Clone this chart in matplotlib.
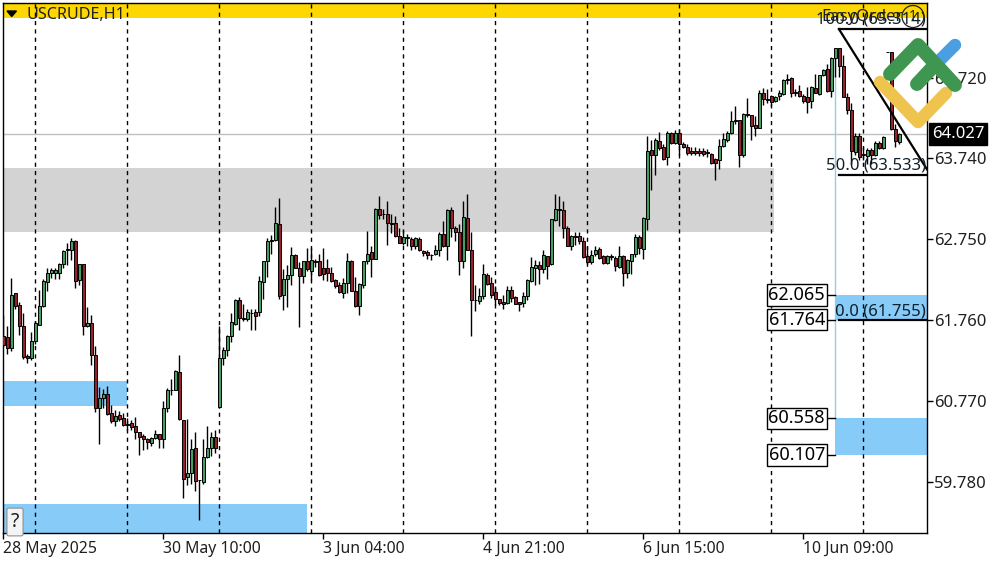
import matplotlib
matplotlib.use('Agg')
import matplotlib.pyplot as plt
from matplotlib.patches import Rectangle
from matplotlib.transforms import Affine2D, blended_transform_factory

opens = [61.56,61.55,61.42,62.09,61.94,61.69,61.32,61.30,61.50,61.70,
    61.93,62.23,62.34,62.33,62.33,62.44,62.61,62.62,62.72,62.25,
    62.45,61.69,61.72,61.33,60.69,60.81,60.86,60.62,60.52,60.60,
    60.56,60.49,60.50,60.46,60.39,60.34,60.30,60.26,60.32,60.37,
    60.30,60.69,60.90,60.91,61.13,60.54,59.84,59.89,60.19,59.81,
    59.78,60.08,60.20,60.33,60.70,61.29,61.39,61.56,61.71,62.01,
    61.78,61.77,61.85,61.86,61.86,62.23,62.48,62.72,62.74,62.93,
    62.07,62.26,62.31,62.55,62.40,62.30,62.48,62.36,62.48,62.48,
    62.40,62.40,62.33,62.25,62.19,62.09,62.21,62.48,62.12,61.93,
    62.19,62.48,62.59,62.51,63.12,63.06,63.06,62.94,62.94,62.79,
    62.70,62.76,62.75,62.66,62.75,62.60,62.59,62.56,62.57,62.61,
    62.81,62.67,63.10,62.88,62.84,62.48,63.01,62.62,62.01,61.99,
    62.05,62.31,62.21,62.10,62.02,61.98,61.97,62.13,62.04,61.98,
    61.97,62.05,62.24,62.40,62.43,62.38,62.54,62.44,62.98,63.12,
    63.11,62.89,62.67,62.79,62.79,62.72,62.54,62.47,62.57,62.63,
    62.54,62.46,62.54,62.52,62.41,62.54,62.34,62.48,62.57,62.78,
    62.63,63.00,63.84,63.78,63.95,63.88,63.75,64.04,63.92,64.04,
    63.91,63.87,63.83,63.83,63.82,63.82,63.81,63.79,63.73,63.72,
    63.89,63.96,64.04,64.19,64.20,63.78,64.28,64.26,64.14,64.11,
    64.53,64.46,64.50,64.44,64.50,64.52,64.69,64.72,64.55,64.56,
    64.50,64.49,64.44,64.60,64.52,64.75,64.83,64.56,64.96,65.08,
    64.86,64.48,64.33,63.81,64.01,63.79,63.77,63.84,63.78,63.92,
    63.86,65.03,65.03,64.09,63.94]

highs = [61.82,61.69,62.27,62.09,61.98,61.84,61.34,61.61,61.75,62.13,
    62.26,62.40,62.40,62.39,62.46,62.61,62.70,62.76,62.74,62.45,
    62.45,61.92,61.82,61.44,60.94,60.92,60.95,60.72,60.66,60.65,
    60.62,60.56,60.54,60.58,60.39,60.37,60.32,60.33,60.42,60.37,
    60.77,60.93,61.04,61.15,61.33,60.54,60.55,60.31,60.39,59.81,
    60.31,60.46,60.39,60.41,61.69,61.43,61.58,61.85,62.02,62.04,
    61.96,61.89,61.90,61.90,62.30,62.48,62.76,62.80,63.14,63.25,
    62.38,62.43,62.65,62.57,62.47,62.48,62.64,62.64,62.51,62.57,
    62.64,62.50,62.41,62.26,62.22,62.27,62.58,62.49,62.28,62.21,
    62.48,62.85,62.66,63.13,63.27,63.12,63.21,63.06,63.03,62.89,
    62.86,62.81,62.77,62.78,62.77,62.62,62.62,62.57,62.68,62.83,
    62.97,63.12,63.14,62.91,62.93,63.21,63.30,62.84,62.19,62.15,
    62.45,62.33,62.29,62.17,62.02,62.07,62.17,62.17,62.05,61.98,
    62.10,62.26,62.53,62.49,62.48,62.61,62.54,63.00,63.30,63.28,
    63.21,62.91,62.80,62.83,62.83,62.78,62.66,62.61,62.66,62.65,
    62.55,62.55,62.57,62.54,62.66,62.55,62.50,62.57,62.81,62.80,
    63.02,64.01,63.96,63.98,64.06,63.91,64.07,64.06,64.08,64.10,
    63.93,63.91,63.88,63.87,63.86,63.86,63.85,63.80,63.74,63.97,
    64.04,64.07,64.31,64.37,64.20,64.29,64.47,64.26,64.25,64.57,
    64.59,64.58,64.51,64.50,64.57,64.71,64.77,64.73,64.58,64.63,
    64.52,64.61,64.62,64.77,64.76,64.83,64.89,64.97,65.09,65.08,
    65.00,64.53,64.41,64.05,64.04,63.88,63.86,63.86,63.95,63.95,
    64.01,65.03,65.03,64.15,64.04]

lows = [61.43,61.35,61.38,61.90,61.58,61.28,61.23,61.27,61.47,61.70,
    61.92,62.11,62.27,62.26,62.26,62.39,62.43,62.49,62.15,62.19,
    61.58,61.68,61.21,60.64,60.24,60.68,60.60,60.50,60.46,60.52,
    60.47,60.41,60.41,60.31,60.11,60.17,60.18,60.22,60.31,60.19,
    60.19,60.64,60.84,60.90,60.54,59.59,59.74,59.76,59.67,59.31,
    59.76,60.07,60.10,60.14,60.69,61.21,61.32,61.49,61.70,61.64,
    61.75,61.75,61.64,61.64,61.81,62.02,62.28,62.57,62.72,62.02,
    61.88,61.92,62.19,62.39,61.67,62.21,62.36,62.25,62.41,62.30,
    62.25,62.24,62.23,62.15,62.09,62.03,62.09,62.11,61.92,61.82,
    62.15,62.44,62.28,62.50,62.99,62.99,62.68,62.82,62.78,62.70,
    62.68,62.66,62.62,62.63,62.60,62.54,62.51,62.49,62.55,62.54,
    62.65,62.49,62.78,62.73,62.31,62.40,62.61,61.56,61.87,61.96,
    62.02,62.19,62.03,61.94,61.94,61.89,61.96,61.98,61.95,61.87,
    61.92,62.00,62.23,62.19,62.20,62.33,62.26,62.43,62.97,62.91,
    62.76,62.66,62.61,62.68,62.69,62.52,62.45,62.44,62.54,62.51,
    62.44,62.44,62.49,62.36,62.40,62.18,62.27,62.32,62.53,62.57,
    62.51,62.86,63.35,63.53,63.84,63.72,63.66,63.91,63.91,63.78,
    63.86,63.78,63.78,63.78,63.76,63.76,63.75,63.67,63.47,63.61,
    63.88,63.94,64.03,64.16,63.63,63.75,64.24,63.96,64.01,64.11,
    64.39,64.41,64.37,64.43,64.45,64.51,64.65,64.48,64.50,64.49,
    64.41,64.29,64.35,64.53,64.51,64.74,64.55,64.48,64.73,64.73,
    64.48,64.28,63.67,63.78,63.72,63.71,63.67,63.67,63.76,63.85,
    63.85,65.03,64.08,63.88,63.91]

closes = [61.45,61.42,62.07,61.93,61.69,61.31,61.30,61.50,61.72,61.93,
    62.24,62.34,62.37,62.37,62.44,62.60,62.63,62.72,62.24,62.45,
    61.69,61.72,61.33,60.68,60.81,60.86,60.61,60.52,60.59,60.55,
    60.48,60.48,60.45,60.39,60.33,60.30,60.27,60.32,60.37,60.30,
    60.69,60.90,60.91,61.14,60.55,59.82,59.89,60.18,59.79,59.80,
    60.08,60.20,60.33,60.19,61.29,61.39,61.57,61.73,62.00,61.78,
    61.77,61.86,61.84,61.81,62.24,62.48,62.72,62.74,62.95,62.05,
    62.26,62.31,62.55,62.39,62.30,62.48,62.38,62.49,62.47,62.31,
    62.32,62.33,62.24,62.17,62.10,62.21,62.48,62.12,61.93,62.20,
    62.48,62.57,62.51,63.12,63.04,63.05,62.94,62.93,62.79,62.70,
    62.77,62.77,62.66,62.76,62.61,62.58,62.55,62.55,62.61,62.81,
    62.67,63.10,62.88,62.84,62.48,63.02,62.61,62.01,62.00,62.05,
    62.32,62.20,62.06,62.02,61.97,61.96,62.13,62.03,61.96,61.96,
    62.05,62.25,62.41,62.43,62.38,62.55,62.42,62.99,63.12,63.10,
    62.89,62.67,62.79,62.78,62.72,62.53,62.47,62.56,62.62,62.52,
    62.46,62.54,62.53,62.42,62.54,62.34,62.49,62.57,62.77,62.64,
    63.01,63.83,63.78,63.96,63.86,63.73,64.05,63.92,64.04,63.91,
    63.87,63.80,63.80,63.80,63.80,63.79,63.80,63.68,63.68,63.89,
    63.97,64.04,64.19,64.21,63.78,64.28,64.26,64.13,64.11,64.53,
    64.46,64.45,64.42,64.49,64.53,64.69,64.70,64.54,64.54,64.50,
    64.44,64.43,64.61,64.54,64.75,64.82,64.56,64.96,65.08,64.87,
    64.48,64.33,63.82,64.01,63.75,63.78,63.84,63.78,63.92,63.86,
    64.00,65.03,64.09,63.95,64.03]

# bar numbers of the date ticks and of the dashed period separators
tick_bars = [0, 40, 80, 120, 160, 200]
tick_labels = ['28 May 2025', '30 May 10:00', '3 Jun 04:00', '4 Jun 21:00', '6 Jun 15:00', '10 Jun 09:00']
separator_bars = [8, 31, 54, 77, 100, 123, 146, 169, 192, 215]
price_ticks = [59.78, 60.77, 61.76, 62.75, 63.74, 64.72]

current_price = 64.027
fib_levels = [(65.314, '100.0 (65.314)'), (63.533, '50.0 (63.533)'), (61.755, '0.0 (61.755)')]
zone_prices = [62.065, 61.764, 60.558, 60.107]

GREEN = '#41a060'
RED = '#96202c'
BLUE = '#87cbf8'
XMIN, XMAX = -0.2, 230.9
YMIN, YMAX = 59.157, 65.634
FONT = 'Noto Sans'


def draw_zones(ax):
    ax.add_patch(Rectangle((XMIN, 65.451), XMAX - XMIN, YMAX - 65.451, color='#ffd700', lw=0, zorder=1))
    ax.add_patch(Rectangle((XMIN, 62.836), 192.6 - XMIN, 0.782, color='#d3d3d3', lw=0, zorder=1))
    ax.add_patch(Rectangle((XMIN, 60.709), 31 - XMIN, 0.306, color=BLUE, lw=0, zorder=1))
    ax.add_patch(Rectangle((XMIN, YMIN), 76 - XMIN, 59.511 - YMIN, color=BLUE, lw=0, zorder=1))
    ax.add_patch(Rectangle((208, zone_prices[1]), XMAX - 208, zone_prices[0] - zone_prices[1], color=BLUE, lw=0, zorder=1))
    ax.add_patch(Rectangle((208, zone_prices[3]), XMAX - 208, zone_prices[2] - zone_prices[3], color=BLUE, lw=0, zorder=1))


def draw_candles(ax):
    bars = list(range(len(opens)))
    ax.vlines(bars, lows, highs, color='black', lw=1, zorder=4)
    heights = [c - o for o, c in zip(opens, closes)]
    colors = [GREEN if c >= o else RED for o, c in zip(opens, closes)]
    ax.bar(bars, heights, bottom=opens, width=0.72, color=colors, edgecolor='black', linewidth=0.7, zorder=5)


def draw_fib(ax):
    ax.plot([208, 208], [zone_prices[2], 65.0], color='#8fd0ea', lw=1, zorder=3)
    for price, label in fib_levels:
        ax.plot([208.9, XMAX], [price, price], color='black', lw=1.6, zorder=6)
        ax.text(230.6, price + 0.015, label, ha='right', va='bottom', fontsize=12, family=FONT, color='#10202a', zorder=7)
    ax.plot([208.9, XMAX], [65.314, 63.6], color='black', lw=1.6, zorder=6)


def draw_price_boxes(ax):
    for price in zone_prices:
        ax.plot([205.7, 208], [price, price], color='black', lw=1, zorder=6)
        ax.text(205.4, price, '%.3f' % price, ha='right', va='center', fontsize=13, family=FONT, color='black', zorder=7,
                bbox=dict(facecolor='white', edgecolor='black', linewidth=1, boxstyle='square,pad=0.1'))


def draw_overlay(ax):
    # things the terminal draws in screen position, y counted from the top
    pix = Affine2D().scale(1, -1).translate(0, 562)
    ax.fill([7, 16.5, 11.7], [11, 11, 16.5], color='black', transform=pix, zorder=8)
    ax.text(26, 15, 'USCRUDE,H1', transform=pix, ha='left', va='center', fontsize=11.6, family=FONT, color='#202020', zorder=8)
    ax.text(821, 17, 'EasyOrder', transform=pix, ha='left', va='center', fontsize=12, family=FONT, color='#202020', zorder=7)
    ax.text(913, 16.5, '1', transform=pix, ha='center', va='center', fontsize=10, family=FONT, color='#202020', zorder=7,
            bbox=dict(facecolor='none', edgecolor='#202020', linewidth=0.9, boxstyle='circle,pad=0.25'))
    ax.text(15, 522, '?', transform=pix, ha='center', va='center', fontsize=14, family=FONT, fontweight='bold', color='#202020', zorder=8,
            bbox=dict(facecolor='#f4f4f4', edgecolor='#909090', linewidth=0.8, boxstyle='round,pad=0.2,rounding_size=0.1'))

    # logo in the corner
    logo = dict(transform=pix, solid_capstyle='round', solid_joinstyle='round', clip_on=False, zorder=9)
    ax.plot([940, 955], [60, 45], color='#4a9fe3', lw=9, **logo)
    ax.plot([880, 918, 946], [82, 122, 93], color='#efc44e', lw=9, **logo)
    ax.plot([890, 918, 955], [74, 45, 85], color='#3f9650', lw=10, **logo)
    ax.plot([917, 932], [84, 68], color='#3f9650', lw=10, **logo)


def create_plot():
    fig = plt.figure(figsize=(10, 5.62), dpi=100, facecolor='white')
    ax = fig.add_axes([2.5 / 1000, 29 / 562, 924.5 / 1000, 530 / 562])
    ax.set_xlim(XMIN, XMAX)
    ax.set_ylim(YMIN, YMAX)

    draw_zones(ax)
    ax.axhline(current_price, color='#c0c0c0', lw=1, zorder=2)
    for bar in separator_bars:
        ax.axvline(bar, color='black', lw=1, dashes=(3, 3), zorder=3)
    draw_candles(ax)
    draw_fib(ax)
    draw_price_boxes(ax)
    draw_overlay(ax)

    ax.set_xticks(tick_bars)
    ax.set_xticklabels(tick_labels, ha='left', fontsize=11.4, family=FONT, color='#202020')
    ax.set_yticks(price_ticks)
    ax.set_yticklabels(['%.3f' % p for p in price_ticks], fontsize=12, family=FONT, color='#202020')
    ax.yaxis.tick_right()
    ax.tick_params(axis='y', length=4, width=1, pad=1)
    ax.tick_params(axis='x', length=4, width=1, pad=1.5)
    for spine in ax.spines.values():
        spine.set_linewidth(1)

    # last price tag on the scale
    tag = blended_transform_factory(ax.transAxes, ax.transData)
    ax.text(1.0052, current_price, '%.3f' % current_price, transform=tag, ha='left', va='center', fontsize=12, family=FONT,
            color='white', zorder=8, bbox=dict(facecolor='black', edgecolor='black', boxstyle='square,pad=0.18'))

    fig.savefig('out.png', dpi=100)


if __name__ == '__main__':
    create_plot()
